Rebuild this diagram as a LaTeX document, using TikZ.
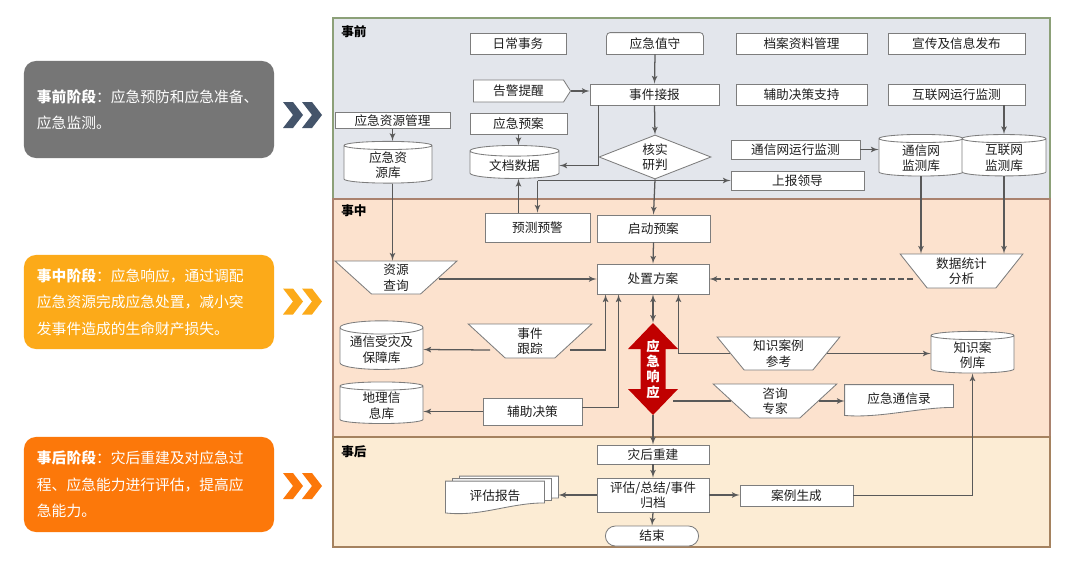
\documentclass[tikz,border=0pt]{standalone}
\usepackage{fontspec}
\newfontfamily\cjk{Noto Sans CJK SC}
\usepackage{tikz}
\usetikzlibrary{shapes.geometric,shapes.symbols,shapes.misc,arrows,calc}
\pgfdeclarelayer{background}
\pgfsetlayers{background,main}

\definecolor{phgray}{RGB}{118,118,118}
\definecolor{phyel}{RGB}{252,170,25}
\definecolor{phor}{RGB}{252,120,10}
\definecolor{chgray}{RGB}{68,84,106}
\definecolor{topband}{RGB}{227,230,236}
\definecolor{topborder}{RGB}{140,160,120}
\definecolor{midband}{RGB}{252,226,206}
\definecolor{midborder}{RGB}{170,130,110}
\definecolor{botband}{RGB}{252,236,212}
\definecolor{botborder}{RGB}{165,130,95}
\definecolor{linec}{RGB}{89,89,89}
\definecolor{bordc}{RGB}{125,125,125}
\definecolor{txtc}{RGB}{30,30,30}
\definecolor{respred}{RGB}{192,0,0}

\begin{document}
\begin{tikzpicture}[x=0.025cm, y=-0.025cm]
    \tikzset{
      box/.style={draw=bordc, line width=0.6pt, fill=white, rectangle, inner sep=1pt, align=center, text=txtc, font=\cjk\fontsize{9}{11}\selectfont},
      plain/.style={box, draw=none, fill=none},
      db/.style={box, cylinder, shape border rotate=90, aspect=0.2},
      trap/.style={box, trapezium, shape border rotate=180, trapezium angle=55, trapezium stretches=true},
      dec/.style={box, diamond, aspect=2.5, inner sep=0pt},
      sig/.style={box, signal, signal to=east, signal pointer angle=115},
      term/.style={box, rounded rectangle},
      phase/.style={rounded corners=0.3cm, text=white, align=left, text width=5.6cm, inner xsep=0.325cm, font=\cjk\fontsize{10.5}{18.9}\selectfont},
      tag/.style={anchor=west, inner sep=0pt, text=black, font=\cjk\bfseries\fontsize{9}{11}\selectfont},
      pagestyle/.style={fill=white, draw=bordc, line width=0.6pt},
      line/.style={draw=linec, line width=0.9pt, -latex'},
      dashline/.style={line, dash pattern=on 4pt off 2.5pt}
    }
    \useasboundingbox (0,0) rectangle (1075,560);

    % bands
    \begin{pgfonlayer}{background}
      \fill[white] (0,0) rectangle (1075,560);
      \filldraw[fill=topband, draw=topborder, line width=0.8pt] (333,18) rectangle (1050,199);
      \filldraw[fill=midband, draw=midborder, line width=0.8pt] (333,199) rectangle (1050,437);
      \filldraw[fill=botband, draw=botborder, line width=0.8pt] (333,437) rectangle (1050,547);
    \end{pgfonlayer}

    % phases on the left
    \node [phase, fill=phgray, minimum height=2.425cm] (pre) at (149,109.5) {{\bfseries 事前阶段}：应急预防和应急准备、\\应急监测。};
    \node [phase, fill=phyel, minimum height=2.35cm] (mid) at (149,302) {{\bfseries 事中阶段}：应急响应，通过调配\\应急资源完成应急处置，减小突\\发事件造成的生命财产损失。};
    \node [phase, fill=phor, minimum height=2.375cm] (post) at (149,484.5) {{\bfseries 事后阶段}：灾后重建及对应急过\\程、应急能力进行评估，提高应\\急能力。};
    \foreach \y/\c in {115/chgray, 301.5/phyel, 486/phor}
      \foreach \dx in {0,19}
        \fill[\c] (283+\dx,\y-13) -- ++(10,0) -- ++(10,13) -- ++(-10,13) -- ++(-10,0) -- ++(10,-13) -- cycle;

    \node [tag] (lpre) at (341,32) {事前};
    \node [tag] (lmid) at (341,211) {事中};
    \node [tag] (lpost) at (341,452) {事后};

    % before
    \node [box, minimum width=2.4cm, minimum height=0.525cm] (rc) at (518,43.5) {日常事务};
    \node [plain, minimum width=2.4cm, minimum height=0.525cm] (zb) at (655,43.5) {应急值守};
    \node [box, minimum width=3.275cm, minimum height=0.525cm] (da) at (801.5,43.5) {档案资料管理};
    \node [box, minimum width=3.425cm, minimum height=0.525cm] (xc) at (956.5,43.5) {宣传及信息发布};
    \node [sig, minimum width=2.425cm, minimum height=0.55cm] (gj) at (518.5,91) {告警提醒};
    \node [box, minimum width=3.225cm, minimum height=0.525cm] (jb) at (654.5,94.5) {事件接报};
    \node [box, minimum width=3.275cm, minimum height=0.525cm] (fz) at (801.5,94.5) {辅助决策支持};
    \node [box, minimum width=3.425cm, minimum height=0.525cm] (hl) at (956.5,94.5) {互联网运行监测};
    \node [box, minimum width=2.875cm, minimum height=0.4cm] (zygl) at (392.5,120.5) {应急资源管理};
    \node [box, minimum width=2.425cm, minimum height=0.525cm] (yjya) at (518.5,123.5) {应急预案};
    \node [db, minimum width=2.2cm, minimum height=0.9cm] (zyk) at (388,165) {应急资\\源库};
    \node [db, minimum width=2.225cm, minimum height=0.825cm] (doc) at (514.5,165.5) {文档数据};
    \node [dec, minimum width=2.8cm, minimum height=1.1cm] (hs) at (655,157) {核实\\研判};
    \node [box, minimum width=3.225cm, minimum height=0.475cm] (txjc) at (795.5,149.5) {通信网运行监测};
    \node [box, minimum width=3.325cm, minimum height=0.475cm] (sb) at (797.5,180.5) {上报领导};
    \node [db, minimum width=2.1cm, minimum height=0.95cm] (txk) at (921,158) {通信网\\监测库};
    \node [db, minimum width=2.1cm, minimum height=0.95cm] (hlk) at (1004,158) {互联网\\监测库};

    % during
    \node [box, minimum width=2.625cm, minimum height=0.725cm] (ycyj) at (537.5,227.5) {预测预警};
    \node [box, minimum width=2.825cm, minimum height=0.675cm] (qd) at (653.5,228.5) {启动预案};
    \node [trap, minimum width=3.05cm, minimum height=0.825cm] (zycx) at (396,277.5) {资源\\查询};
    \node [box, minimum width=2.8cm, minimum height=0.75cm] (cz) at (653,279) {处置方案};
    \node [trap, minimum width=3.075cm, minimum height=0.85cm] (sjtj) at (961.5,271) {数据统计\\分析};
    \node [trap, minimum width=3.1cm, minimum height=0.85cm] (sjgz) at (530,341) {事件\\跟踪};
    \node [db, minimum width=2.075cm, minimum height=0.875cm] (txsz) at (381.5,349.5) {通信受灾及\\保障库};
    \node [db, minimum width=2.075cm, minimum height=0.975cm] (dl) at (381.5,405.5) {地理信\\息库};
    \node [box, minimum width=2.475cm, minimum height=0.675cm] (fzjc) at (532.5,411.5) {辅助决策};
    \node [inner sep=0pt, align=center, text=white, minimum width=1cm, minimum height=2.3cm, font=\cjk\bfseries\fontsize{9.5}{10.9}\selectfont] (resp) at (653,369) {应\\急\\响\\应};
    \node [trap, minimum width=3.075cm, minimum height=0.825cm] (zsck) at (778.5,353.5) {知识案例\\参考};
    \node [db, minimum width=2.075cm, minimum height=1cm] (zsk) at (972.5,355) {知识案\\例库};
    \node [trap, minimum width=3.1cm, minimum height=0.85cm] (zxzj) at (775,401) {咨询\\专家};
    \node [plain, minimum width=2.7cm, minimum height=0.7cm] (txl) at (899,399) {应急通信录};

    % after
    \node [box, minimum width=2.8cm, minimum height=0.475cm] (zh) at (653,454.5) {灾后重建};
    \node [box, minimum width=2.8cm, minimum height=0.85cm] (pg) at (653,495) {评估/总结/事件\\归档};
    \node [term, minimum width=2.4cm, minimum height=0.5cm] (fin) at (652,536) {结束};
    \node [plain, minimum width=2.45cm, minimum height=0.725cm] (bg) at (495,496) {评估报告};
    \node [box, minimum width=2.825cm, minimum height=0.525cm] (al) at (796.5,495.5) {案例生成};

    % odd shapes behind their texts
    \begin{pgfonlayer}{background}
      \filldraw[pagestyle] (zb.south west) [rounded corners=2.5pt] -- (zb.north west) -- (zb.north east) [sharp corners] -- (zb.south east) -- cycle;
      \filldraw[pagestyle] (txl.north west) -- (txl.north east) -- ([yshift=0.15cm]txl.south east) .. controls +(-35,0) and +(35,3) .. ([yshift=-0.05cm]txl.south west) -- cycle;
      \foreach \dx/\dy in {14/-5, 7/-2.5, 0/0}
        \filldraw[pagestyle] ([shift={(\dx,\dy)}]bg.north west) -- ([shift={(\dx,\dy)}]bg.north east) -- ([shift={(\dx,\dy-8)}]bg.south east) .. controls +(-35,0) and +(35,4) .. ([shift={(\dx,\dy+2)}]bg.south west) -- cycle;
      \fill[respred] ($(resp.center)+(0,-46)$) -- ++(25,26) -- ++(-12.5,0) -- ++(0,40) -- ++(12.5,0) -- ++(-25,26) -- ++(-25,-26) -- ++(12.5,0) -- ++(0,-40) -- ++(-12.5,0) -- cycle;
    \end{pgfonlayer}

    % connectors
    \path [line] (zb.south) -- (jb.north);
    \path [line] (gj.east) -- (gj.east -| jb.west);
    \path [line] (jb.south) -- (hs.north);
    \path [line] ($(jb.south west)+(9,0)$) |- (doc.east);
    \path [line] (yjya.south) -- (yjya.south |- doc.north);
    \path [line] (zygl.south) -- (zygl.south |- zyk.north);
    \path [line] (zygl.south |- zyk.south) -- (zygl.south |- zycx.north);
    \path [line] (hs.south) -- (qd.north);
    \path [line] (ycyj.north |- sb.west) -- (sb.west);
    \path [line] (ycyj.north |- sb.west) -- (ycyj.north);
    \path [line] (ycyj.north -| yjya.south) -- (doc.south -| yjya.south);
    \path [line] (txjc.east) -- (txjc.east -| txk.west);
    \path [line] (hlk.north |- hl.south) -- (hlk.north);
    \path [line] (txk.south) -- (txk.south |- sjtj.north);
    \path [line] (hlk.south) -- (hlk.south |- sjtj.north);
    \path [dashline] (cz.east -| sjtj.west) -- (cz.east);
    \path [line] (cz.west -| zycx.east) -- (cz.west);
    \path [line] (qd.south) -- (cz.north);
    \path [line] ($(sjgz.east)+(-4,9)$) -| ($(cz.south west)+(9,0)$);
    \path [line] ($(sjgz.west)+(4,9)$) -- (txsz.east);
    \path [line] (fzjc.west) -- (fzjc.west -| dl.east);
    \path [line] ($(fzjc.east)+(0,-4)$) -| ($(cz.south west)+(22,0)$);
    \path [line, latex'-latex'] (cz.south) -- (resp.north);
    \path [line] (zsck.west) -| ($(cz.south east)+(-31,0)$);
    \path [line] (zsck.east) -- (zsck.east -| zsk.west);
    \path [draw=linec, line width=0.9pt] (zxzj.west) -- (zxzj.west -| resp.east);
    \path [line] (zxzj.east) -- (zxzj.east -| txl.west);
    \path [line] (resp.south) -- (zh.north);
    \path [line] (zh.south) -- (pg.north);
    \path [line] (pg.south) -- (fin.north);
    \path [line] (pg.west) -- ($(pg.west -| bg.east)+(14,0)$);
    \path [line] (pg.east) -- (pg.east -| al.west);
    \path [line] (al.east) -| (zsk.south);
\end{tikzpicture}
\end{document}
